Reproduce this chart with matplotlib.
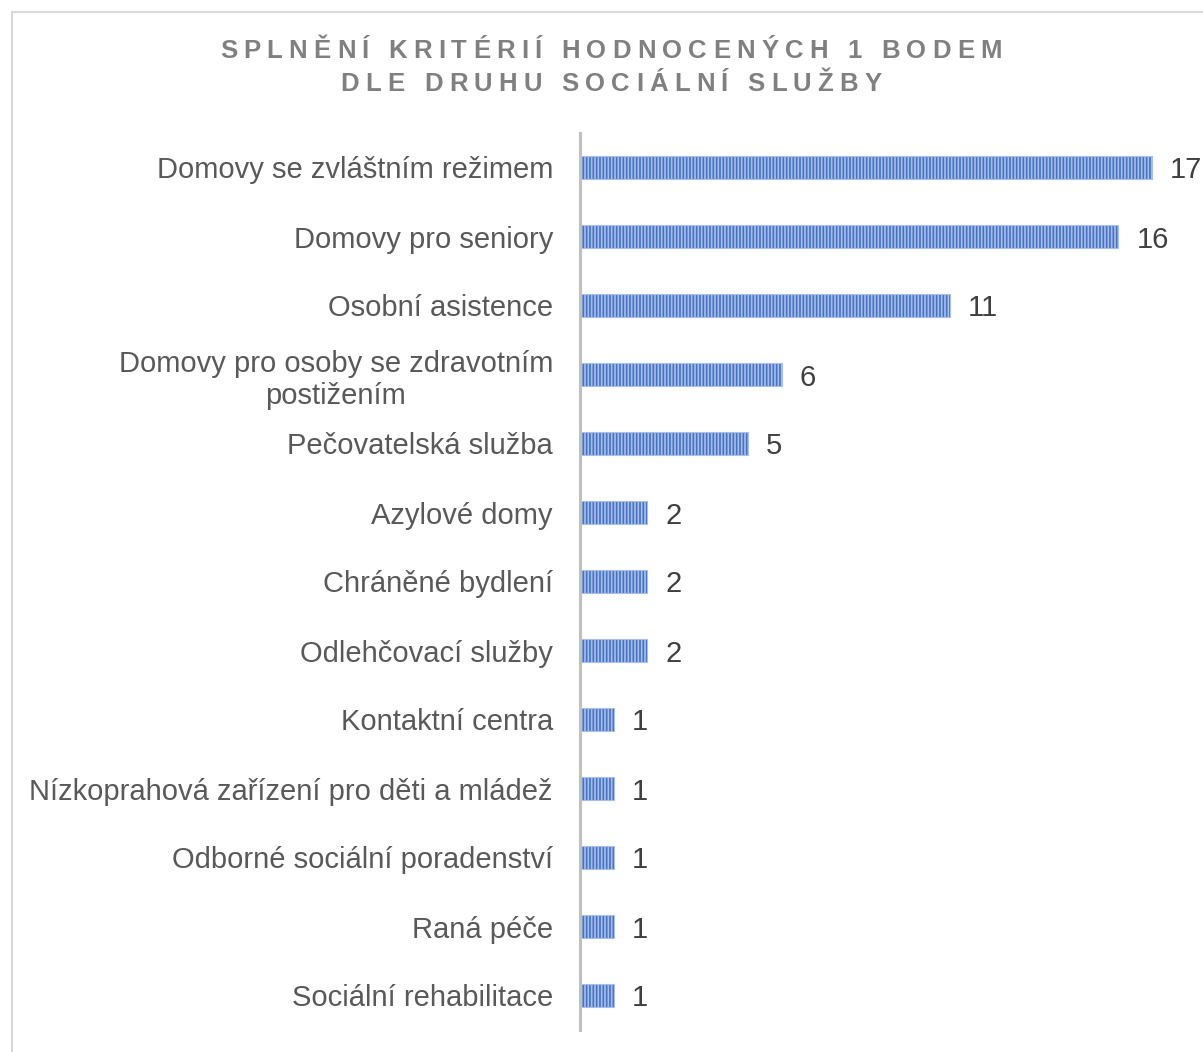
import matplotlib
matplotlib.use("Agg")
import matplotlib.pyplot as plt
from matplotlib.patches import Rectangle
from matplotlib import font_manager
from matplotlib.ft2font import FT2Font
import matplotlib.transforms as mtransforms

categories = [
    "Domovy se zvláštním režimem",
    "Domovy pro seniory",
    "Osobní asistence",
    "Domovy pro osoby se zdravotním\npostižením",
    "Pečovatelská služba",
    "Azylové domy",
    "Chráněné bydlení",
    "Odlehčovací služby",
    "Kontaktní centra",
    "Nízkoprahová zařízení pro děti a mládež",
    "Odborné sociální poradenství",
    "Raná péče",
    "Sociální rehabilitace",
]
values = [17, 16, 11, 6, 5, 2, 2, 2, 1, 1, 1, 1, 1]
title_lines = ["SPLNĚNÍ KRITÉRIÍ HODNOCENÝCH 1 BODEM", "DLE DRUHU SOCIÁLNÍ SLUŽBY"]

plt.rcParams["font.family"] = ["Liberation Sans", "DejaVu Sans"]
plt.rcParams["hatch.linewidth"] = 1.2

W, H = 1203, 1052
DPI = 100
fig = plt.figure(figsize=(W / DPI, H / DPI), dpi=DPI)


def spaced_text(fig, text, xc, yc, size, spacing, **kw):
    # matplotlib has no letter-spacing, so place characters one by one
    fp = font_manager.FontProperties(family="Liberation Sans", weight="bold")
    font = FT2Font(font_manager.findfont(fp))
    font.set_size(size, DPI)
    adv = []
    for ch in text:
        g = font.load_char(ord(ch))
        adv.append(g.linearHoriAdvance / 65536)
    total = sum(adv) + spacing * (len(text) - 1)
    x = xc - total / 2
    for ch, a in zip(text, adv):
        if ch != " ":
            fig.text(x / W, 1 - yc / H, ch, ha="left", va="center",
                     fontsize=size, fontweight="bold", **kw)
        x += a + spacing


# chart frame (only top/left edge visible in the crop)
fig.patches.append(Rectangle((12 / W, -0.1), 1.2, 1 - 12 / H + 0.1,
                             transform=fig.transFigure, fill=False,
                             edgecolor="#D9D9D9", linewidth=1.5))

ax_l, ax_r, ax_t, ax_b = 580, 1203, 133, 1030
ax = fig.add_axes([ax_l / W, 1 - ax_b / H, (ax_r - ax_l) / W, (ax_b - ax_t) / H])

px_per_unit = (1153 - 581) / 17
y = list(range(len(categories)))
ax.barh(y, values, height=0.32, color="#4472C4", edgecolor="#A9BFEA",
        hatch="|||||", linewidth=0.8)

ax.set_xlim(0, (ax_r - ax_l) / px_per_unit)
ax.set_ylim(len(categories) - 0.5, -0.5)

for s in ["top", "right", "bottom"]:
    ax.spines[s].set_visible(False)
ax.spines["left"].set_color("#BFBFBF")
ax.spines["left"].set_linewidth(2.2)
ax.set_xticks([])
ax.set_yticks(y)
ax.set_yticklabels(categories, fontsize=21, color="#595959", ha="right",
                   multialignment="center", linespacing=1.2)
ax.tick_params(axis="y", length=0, pad=19.5)

down = mtransforms.offset_copy(ax.transData, fig=fig, x=0, y=-3, units="dots")
for yi, v in zip(y, values):
    ax.text(v + 18 / px_per_unit, yi, str(v), va="center", ha="left",
            fontsize=21, color="#404040", transform=down)

spaced_text(fig, title_lines[0], 611, 51, 18.5, 6.2, color="#808080")
spaced_text(fig, title_lines[1], 611, 84, 18.5, 6.2, color="#808080")

fig.savefig("out.png", dpi=DPI)
